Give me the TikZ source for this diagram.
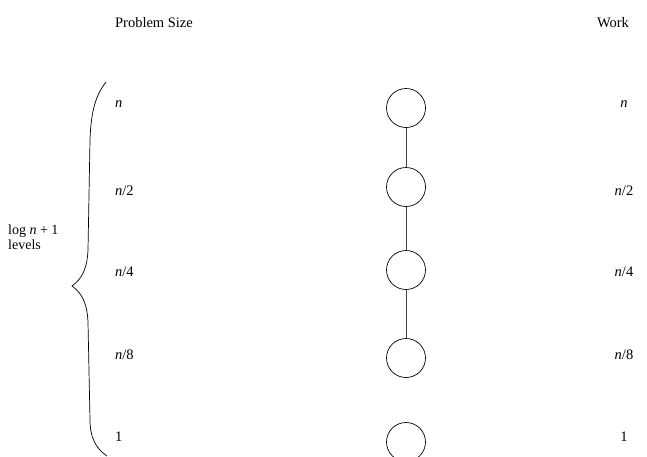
\documentclass[tikz,border=0pt]{standalone}
\usepackage{fontspec}
\setmainfont{Liberation Serif}
\begin{document}
\begin{tikzpicture}[x=1pt,y=-1pt,
  lvl/.style={draw=black,line width=0.7pt,circle,minimum size=39pt,inner sep=0pt},
  lab/.style={font=\fontsize{14.5}{16}\selectfont,inner sep=0pt},
  conn/.style={draw=black!75,line width=0.8pt}]
\useasboundingbox (0,0) rectangle (647,456);
\node[lab] (ps) at (154,23) {Problem Size};
\node[lab] (wk) at (613,23) {Work};
\foreach \i/\y/\ly/\t in {1/108/104/{\textit{n}},2/187/191/{\textit{n}/2},3/270/272/{\textit{n}/4},4/358/355/{\textit{n}/8},5/442/437/{1}}{
  \node[lvl] (c\i) at (406,\y) {};
  \node[lab,anchor=west] (l\i) at (115,\ly) {\t};
  \node[lab] (r\i) at (624,\ly) {\t};
}
\draw[conn] (c1) -- (c2);
\draw[conn] (c2) -- (c3);
\draw[conn] (c3) -- (c4);
\draw[line width=0.7pt] (106,82) .. controls (96,95) and (91,110) .. (90,140) -- (88,250) .. controls (87,272) and (80,280) .. (72,286) .. controls (80,292) and (87,300) .. (88,322) -- (90,420) .. controls (90,440) and (98,450) .. (107,456);
\node[lab,anchor=west,align=left,font=\fontsize{14}{14.5}\selectfont] (lv) at (8,237) {log \textit{n} + 1\\levels};
\end{tikzpicture}
\end{document}
